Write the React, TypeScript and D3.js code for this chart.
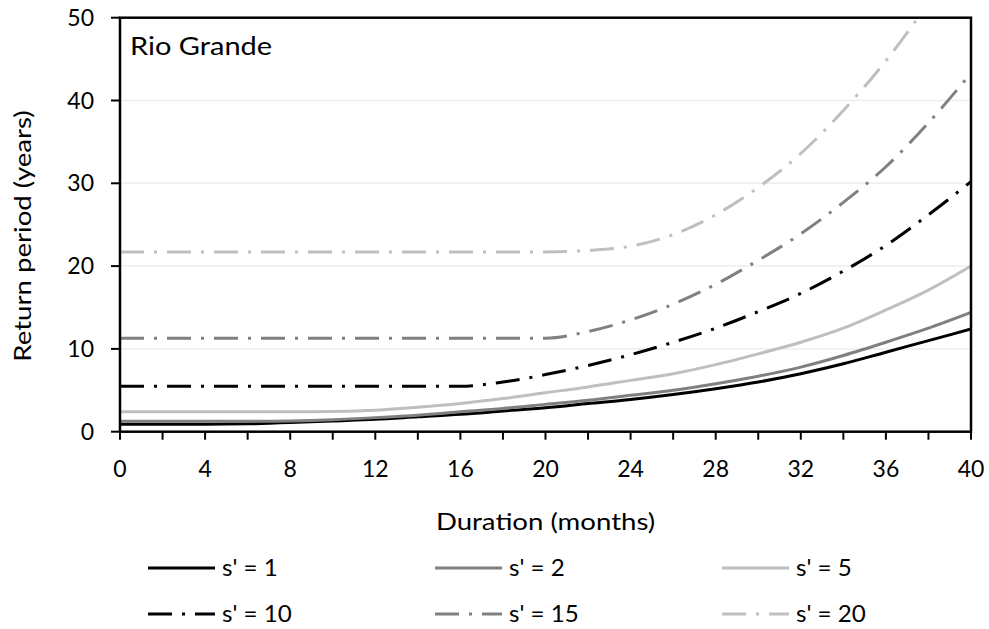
import React from "react";
import * as d3 from "d3";

// Duration (months) at which each curve is sampled
const durations = [0, 2, 4, 6, 8, 10, 12, 14, 16, 18, 20, 22, 24, 26, 28, 30, 32, 34, 36, 38, 40];

// Return period (years) for each severity s'
const s1 = [0.9, 0.9, 0.9, 0.95, 1.1, 1.3, 1.5, 1.8, 2.1, 2.5, 2.9, 3.4, 3.9, 4.5, 5.2, 6.0, 7.0, 8.2, 9.6, 11.0, 12.4];
const s2 = [1.25, 1.25, 1.25, 1.25, 1.3, 1.45, 1.7, 2.0, 2.4, 2.8, 3.3, 3.8, 4.4, 5.0, 5.8, 6.7, 7.8, 9.2, 10.8, 12.5, 14.4];
const s5 = [2.4, 2.4, 2.4, 2.4, 2.4, 2.45, 2.6, 2.95, 3.4, 4.0, 4.7, 5.4, 6.2, 7.0, 8.1, 9.4, 10.8, 12.5, 14.7, 17.1, 20.0];
const s10 = [5.5, 5.5, 5.5, 5.5, 5.5, 5.5, 5.5, 5.5, 5.5, 6.0, 6.9, 8.0, 9.3, 10.8, 12.5, 14.5, 16.7, 19.4, 22.5, 26.2, 30.2];
const s15 = [11.3, 11.3, 11.3, 11.3, 11.3, 11.3, 11.3, 11.3, 11.3, 11.3, 11.3, 12.1, 13.5, 15.4, 17.8, 20.7, 23.9, 27.7, 32.0, 37.3, 43.3];
const s20 = [21.7, 21.7, 21.7, 21.7, 21.7, 21.7, 21.7, 21.7, 21.7, 21.7, 21.7, 21.9, 22.4, 23.8, 26.2, 29.5, 33.6, 38.8, 44.8, 51.8, 59.5];

const seriesNames = ["s' = 1", "s' = 2", "s' = 5", "s' = 10", "s' = 15", "s' = 20"];
const seriesValues = [s1, s2, s5, s10, s15, s20];

const xTicks = [0, 4, 8, 12, 16, 20, 24, 28, 32, 36, 40];
const xMinorTicks = d3.range(0, 41, 2);
const yTicks = [0, 10, 20, 30, 40, 50];

const title = "Rio Grande";
const xTitle = "Duration (months)";
const yTitle = "Return period (years)";

const colors = ["#000000", "#808080", "#bfbfbf", "#000000", "#808080", "#bfbfbf"];
const dashDot = "24 10 3 10";
const dashes = [null, null, null, dashDot, dashDot, dashDot];

const W = 989;
const H = 629;
const m = { left: 120, right: 971, top: 17.7, bottom: 431.7 };
const font = "Lato, 'Open Sans', sans-serif";
const fs = 23;
// word labels are set a little wider than the font's natural width
const wide = 1.2;

export default function App() {
  const x = d3.scaleLinear().domain([0, 40]).range([m.left, m.right]);
  const y = d3.scaleLinear().domain([0, 50]).range([m.bottom, m.top]);
  const line = d3
    .line<number>()
    .x((_, i) => x(durations[i]))
    .y((v) => y(v))
    .curve(d3.curveMonotoneX);

  return (
    <svg
      width={W}
      height={H}
      style={{ position: "absolute", left: 0, top: 0, background: "#fff" }}
      fontFamily={font}
    >
      <defs>
        <clipPath id="plot">
          <rect x={m.left} y={m.top} width={m.right - m.left} height={m.bottom - m.top} />
        </clipPath>
      </defs>

      {/* horizontal gridlines */}
      {yTicks.slice(1, -1).map((t) => (
        <line key={"g" + t} x1={m.left} x2={m.right} y1={y(t)} y2={y(t)} stroke="#eeeeee" strokeWidth={1.5} />
      ))}

      {/* series */}
      <g clipPath="url(#plot)">
        {seriesValues.map((vals, i) => (
          <path
            key={seriesNames[i]}
            d={line(vals) || ""}
            fill="none"
            stroke={colors[i]}
            strokeWidth={3}
            strokeDasharray={dashes[i] || undefined}
          />
        ))}
      </g>

      {/* plot frame */}
      <rect
        x={m.left}
        y={m.top}
        width={m.right - m.left}
        height={m.bottom - m.top}
        fill="none"
        stroke="#000"
        strokeWidth={2.5}
      />

      {/* x ticks */}
      {xMinorTicks.map((t) => (
        <line key={"xt" + t} x1={x(t)} x2={x(t)} y1={m.bottom} y2={m.bottom + 8} stroke="#000" strokeWidth={2} />
      ))}
      {xTicks.map((t) => (
        <text key={"xl" + t} x={x(t)} y={m.bottom + 45} textAnchor="middle" fontSize={fs} fill="#000">
          {t}
        </text>
      ))}

      {/* y ticks */}
      {yTicks.map((t) => (
        <g key={"yt" + t}>
          <line x1={m.left - 9} x2={m.left} y1={y(t)} y2={y(t)} stroke="#000" strokeWidth={2} />
          <text x={m.left - 26} y={y(t)} dy="0.35em" textAnchor="end" fontSize={fs} fill="#000">
            {t}
          </text>
        </g>
      ))}

      {/* titles */}
      <text transform={`translate(130, 55) scale(${wide - 0.04}, 1)`} fontSize={25} fill="#000">
        {title}
      </text>
      <text
        transform={`translate(${(m.left + m.right) / 2}, 530) scale(${wide}, 1)`}
        textAnchor="middle"
        fontSize={fs}
        fill="#000"
      >
        {xTitle}
      </text>
      <text
        transform={`translate(31, 236) rotate(-90) scale(${wide}, 1)`}
        textAnchor="middle"
        fontSize={fs}
        fill="#000"
      >
        {yTitle}
      </text>

      {/* legend */}
      {seriesNames.map((name, i) => {
        const col = i % 3;
        const row = Math.floor(i / 3);
        const lx = 148 + col * 287;
        const ly = 568 + row * 46;
        return (
          <g key={"lg" + name}>
            <line
              x1={lx}
              x2={lx + 67}
              y1={ly}
              y2={ly}
              stroke={colors[i]}
              strokeWidth={3}
              strokeDasharray={dashes[i] || undefined}
            />
            <text
              transform={`translate(${lx + 74}, ${ly}) scale(1.05, 1)`}
              dy="0.35em"
              fontSize={fs}
              fill="#000"
            >
              {name}
            </text>
          </g>
        );
      })}
    </svg>
  );
}
